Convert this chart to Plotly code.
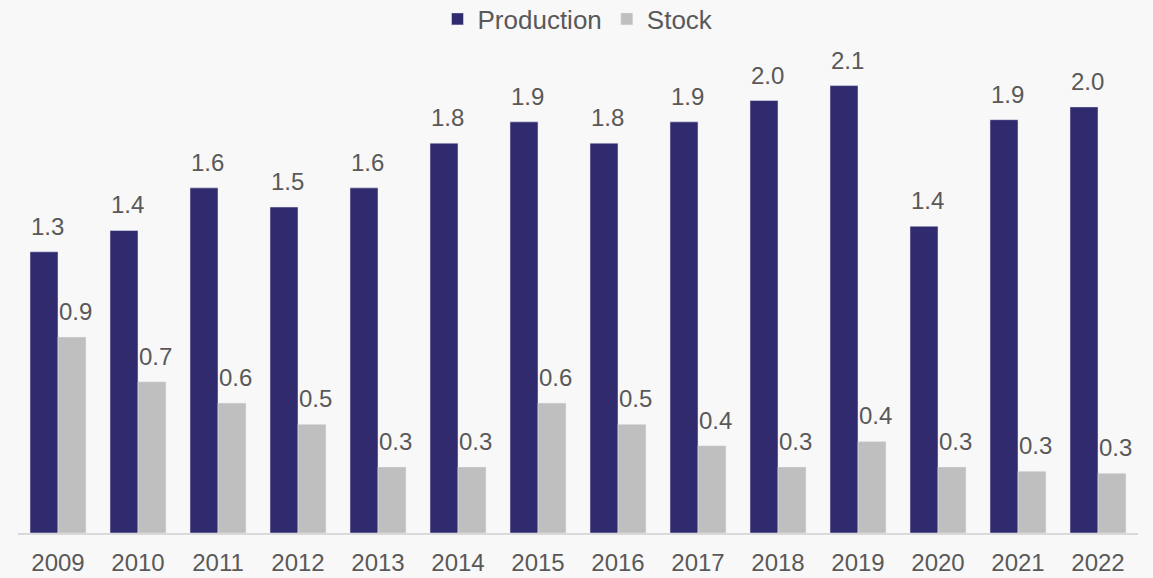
import plotly.graph_objects as go

years = ["2009", "2010", "2011", "2012", "2013", "2014", "2015", "2016", "2017", "2018", "2019", "2020", "2021", "2022"]
production = [1.32, 1.42, 1.62, 1.53, 1.62, 1.83, 1.93, 1.83, 1.93, 2.03, 2.10, 1.44, 1.94, 2.00]
stock = [0.92, 0.71, 0.61, 0.51, 0.31, 0.31, 0.61, 0.51, 0.41, 0.31, 0.43, 0.31, 0.29, 0.28]

TXT = "#595959"
FONT = "Liberation Sans, Arial, sans-serif"

fig = go.Figure()
fig.add_trace(go.Bar(name="Production", x=years, y=production, marker_color="#302A6E"))
fig.add_trace(go.Bar(name="Stock", x=years, y=stock, marker_color="#BFBFBF"))

ann = []
for i in range(len(years)):
    ann.append(dict(x=i, y=production[i], text=f"{production[i]:.1f}", xref="x", yref="y",
                    showarrow=False, yanchor="bottom", xshift=-11, yshift=10,
                    font=dict(size=24, color=TXT, family=FONT)))
    ann.append(dict(x=i, y=stock[i], text=f"{stock[i]:.1f}", xref="x", yref="y",
                    showarrow=False, yanchor="bottom", xshift=17, yshift=10,
                    font=dict(size=24, color=TXT, family=FONT)))

fig.update_layout(
    width=1153, height=578,
    margin=dict(l=18, r=15, t=43, b=45, autoexpand=False),
    paper_bgcolor="#F8F8F8", plot_bgcolor="#F8F8F8",
    barmode="group", bargap=0.3, bargroupgap=0,
    font=dict(family=FONT, color=TXT, size=24),
    legend=dict(orientation="h", x=0.5, xanchor="center", y=1.049, yanchor="middle",
                font=dict(size=26, color=TXT), bgcolor="rgba(0,0,0,0)"),
    annotations=ann,
    xaxis=dict(type="category", range=[-0.5, len(years) - 0.5], showline=True, linecolor="#D9D9D9",
               linewidth=2, ticks="", showgrid=False, automargin=False,
               tickfont=dict(size=24, color=TXT), ticklabelstandoff=7),
    yaxis=dict(range=[0, 2.3], visible=False, showgrid=False, automargin=False),
)

fig.write_html("out.html")
